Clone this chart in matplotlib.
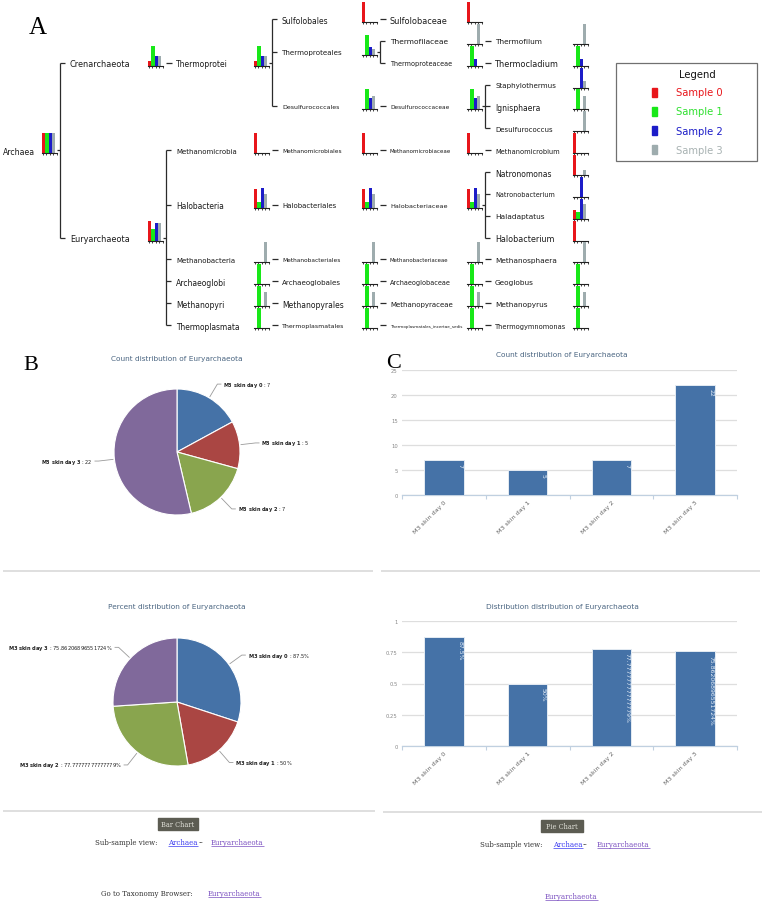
import numpy as np
import matplotlib
matplotlib.use('Agg')
import matplotlib.pyplot as plt
from matplotlib.patches import Rectangle

W, H, DPI = 764, 904, 100

# ---------------- data ----------------
sample_names = ['Sample 0', 'Sample 1', 'Sample 2', 'Sample 3']
sample_colors = ['#e8161b', '#18e818', '#1c1cc8', '#9eacae']
legend_text_colors = ['#e8161b', '#2fe02f', '#1c1cc8', '#a8b2b2']

taxa = ['Archaea', 'Crenarchaeota', 'Thermoprotei', 'Sulfolobales', 'Sulfolobaceae',
        'Thermoproteales', 'Thermofilaceae', 'Thermofilum', 'Thermoproteaceae', 'Thermocladium',
        'Desulfurococcales', 'Desulfurococcaceae', 'Staphylothermus', 'Ignisphaera', 'Desulfurococcus',
        'Euryarchaeota', 'Methanomicrobia', 'Methanomicrobiales', 'Methanomicrobiaceae', 'Methanomicrobium',
        'Halobacteria', 'Halobacteriales', 'Halobacteriaceae', 'Natronomonas', 'Natronobacterium',
        'Haladaptatus', 'Halobacterium',
        'Methanobacteria', 'Methanobacteriales', 'Methanobacteriaceae', 'Methanosphaera',
        'Archaeoglobi', 'Archaeoglobales', 'Archaeoglobaceae', 'Geoglobus',
        'Methanopyri', 'Methanopyrales', 'Methanopyraceae', 'Methanopyrus',
        'Thermoplasmata', 'Thermoplasmatales', 'Thermoplasmatales_incertae_sedis', 'Thermogymnomonas']
parent = [None, 'Archaea', 'Crenarchaeota', 'Thermoprotei', 'Sulfolobales',
          'Thermoprotei', 'Thermoproteales', 'Thermofilaceae', 'Thermoproteales', 'Thermoproteaceae',
          'Thermoprotei', 'Desulfurococcales', 'Desulfurococcaceae', 'Desulfurococcaceae', 'Desulfurococcaceae',
          'Archaea', 'Euryarchaeota', 'Methanomicrobia', 'Methanomicrobiales', 'Methanomicrobiaceae',
          'Euryarchaeota', 'Halobacteria', 'Halobacteriales', 'Halobacteriaceae', 'Halobacteriaceae',
          'Halobacteriaceae', 'Halobacteriaceae',
          'Euryarchaeota', 'Methanobacteria', 'Methanobacteriales', 'Methanobacteriaceae',
          'Euryarchaeota', 'Archaeoglobi', 'Archaeoglobales', 'Archaeoglobaceae',
          'Euryarchaeota', 'Methanopyri', 'Methanopyrales', 'Methanopyraceae',
          'Euryarchaeota', 'Thermoplasmata', 'Thermoplasmatales', 'Thermoplasmatales_incertae_sedis']
# relative abundance of each taxon per sample (mini bar heights)
sample0 = [1, 0.25, 0.25, 1, 1, 0, 0, 0, 0, 0, 0, 0, 0, 0, 0,
           1, 1, 1, 1, 1, 0.95, 0.95, 0.95, 1, 0, 0.42, 1,
           0, 0, 0, 0, 0, 0, 0, 0, 0, 0, 0, 0, 0, 0, 0, 0]
sample1 = [1, 1, 1, 0, 0, 1, 0, 0, 1, 1, 1, 1, 0, 1, 0,
           0.58, 0, 0, 0, 0, 0.28, 0.28, 0.28, 0, 0, 0.33, 0,
           0, 0, 0, 0, 1, 1, 1, 1, 1, 1, 1, 1, 1, 1, 1, 1]
sample2 = [1, 0.47, 0.47, 0, 0, 0.38, 0, 0, 0.35, 0.35, 0.55, 0.55, 1, 0, 0,
           0.88, 0, 0, 0, 0, 1, 1, 1, 0, 1, 1, 0,
           0, 0, 0, 0, 0, 0, 0, 0, 0, 0, 0, 0, 0, 0, 0, 0]
sample3 = [1, 0.5, 0.5, 0, 0, 0.3, 1, 1, 0, 0, 0.65, 0.65, 0.33, 0.68, 1,
           0.87, 0, 0, 0, 0, 0.7, 0.7, 0.7, 0.25, 0, 0.72, 0,
           1, 1, 1, 1, 0, 0, 0, 0, 0.7, 0.7, 0.7, 0.7, 0, 0, 0, 0]

day_labels = ['M3 skin day 0', 'M3 skin day 1', 'M3 skin day 2', 'M3 skin day 3']
counts = [7, 5, 7, 22]
count_ticks = [0, 5, 10, 15, 20, 25]
percents = [87.5, 50.0, 77.77777777777779, 75.86206896551724]
percent_labels = ['87.5%', '50%', '77.77777777777779%', '75.86206896551724%']
pct_ticks = [0, 0.25, 0.5, 0.75, 1]
pct_tick_labels = ['0', '0.25', '0.5', '0.75', '1']
hc_colors = ['#4572A7', '#AA4643', '#89A54E', '#80699B']

# ---------------- layout / style ----------------
label_x = [3, 70, 176, 282, 390, 495]
chart_x = [42, 148, 254, 362, 467, 573]
ROW0, ROWH = 20.0, 21.86
label_widths = {
    'Archaea': 32, 'Crenarchaeota': 60, 'Euryarchaeota': 60, 'Thermoprotei': 52,
    'Methanomicrobia': 61, 'Halobacteria': 48, 'Methanobacteria': 60, 'Archaeoglobi': 50,
    'Methanopyri': 48, 'Thermoplasmata': 64, 'Sulfolobales': 46, 'Thermoproteales': 61,
    'Desulfurococcales': 57, 'Methanomicrobiales': 59, 'Halobacteriales': 55,
    'Methanobacteriales': 58, 'Archaeoglobales': 59, 'Methanopyrales': 61,
    'Thermoplasmatales': 62, 'Sulfolobaceae': 57, 'Thermofilaceae': 58,
    'Thermoproteaceae': 62, 'Desulfurococcaceae': 58, 'Methanomicrobiaceae': 61,
    'Halobacteriaceae': 57, 'Methanobacteriaceae': 59, 'Archaeoglobaceae': 61,
    'Methanopyraceae': 63, 'Thermoplasmatales_incertae_sedis': 73, 'Thermofilum': 47,
    'Thermocladium': 63, 'Staphylothermus': 61, 'Ignisphaera': 45, 'Desulfurococcus': 57,
    'Methanomicrobium': 64, 'Natronomonas': 56, 'Natronobacterium': 60, 'Haladaptatus': 50,
    'Halobacterium': 59, 'Methanosphaera': 62, 'Geoglobus': 39, 'Methanopyrus': 53,
    'Thermogymnomonas': 71}

fig = plt.figure(figsize=(W / DPI, H / DPI), dpi=DPI, facecolor='white')
bg = fig.add_axes([0, 0, 1, 1])
bg.set_xlim(0, W)
bg.set_ylim(H, 0)
bg.axis('off')
renderer = fig.canvas.get_renderer()


def px_axes(x0, y0, x1, y1):
    return fig.add_axes([x0 / W, 1 - y1 / H, (x1 - x0) / W, (y1 - y0) / H])


def seg(xs, ys, color='#2b2b2b', lw=0.9):
    bg.plot(xs, ys, color=color, lw=lw, solid_capstyle='butt')


def fit_text(x, y, s, width):
    t = bg.text(x, y, s, fontsize=10, ha='left', va='center_baseline', color='#1a1a1a')
    w = t.get_window_extent(renderer).width
    t.set_fontsize(10 * width / w)


def mini_chart(x, y, vals):
    ax = px_axes(x, y - 17, x + 15, y + 3)
    ax.bar(np.arange(4), vals, width=1.0, align='edge', color=sample_colors, zorder=2)
    ax.set_xlim(0, 4.6)
    ax.set_ylim(0, 1)
    ax.patch.set_alpha(0)
    for s in ['left', 'right', 'top']:
        ax.spines[s].set_visible(False)
    ax.spines['bottom'].set_linewidth(0.8)
    ax.spines['bottom'].set_color('#222222')
    ax.set_yticks([])
    ax.set_xticks(np.linspace(0.3, 4.5, 5))
    ax.tick_params(axis='x', length=1.4, width=0.6, color='#222222', labelbottom=False)


# ---------------- panel A: taxonomy tree ----------------
children = {t: [] for t in taxa}
depth = {}
for t, p in zip(taxa, parent):
    depth[t] = 0 if p is None else depth[p] + 1
    if p is not None:
        children[p].append(t)
values = {t: [a, b, c, d] for t, a, b, c, d in zip(taxa, sample0, sample1, sample2, sample3)}

row_y = {}
leaf_counter = [0]


def assign(t):
    if not children[t]:
        row_y[t] = ROW0 + ROWH * leaf_counter[0]
        leaf_counter[0] += 1
    else:
        for c in children[t]:
            assign(c)
        row_y[t] = (row_y[children[t][0]] + row_y[children[t][-1]]) / 2


assign('Archaea')

for t in taxa:
    d, y = depth[t], row_y[t]
    fit_text(label_x[d], y, t, label_widths[t])
    mini_chart(chart_x[d], y, values[t])
    ch = children[t]
    if not ch:
        continue
    nx = label_x[d + 1]
    if len(ch) == 1:
        seg([nx - 10, nx - 4], [y, y])
    else:
        vx = nx - 10
        seg([chart_x[d] + 15, vx], [y, y])
        seg([vx, vx], [row_y[ch[0]], row_y[ch[-1]]])
        for c in ch:
            seg([vx, vx + 5], [row_y[c], row_y[c]])

# legend
bg.add_patch(Rectangle((616, 64), 141, 98, fill=False, ec='#707070', lw=0.9))
bg.text(697, 75, 'Legend', ha='center', va='center', fontsize=7.2, color='#111')
for i, (n, c, tc) in enumerate(zip(sample_names, sample_colors, legend_text_colors)):
    yy = 93 + 19.3 * i
    bg.add_patch(Rectangle((652, yy - 4.5), 5, 9, color=c))
    bg.text(676, yy, n, color=tc, fontsize=7.2, va='center')

# panel letters
bg.text(38, 28, 'A', family='Liberation Serif', fontsize=18, ha='center', va='center')
bg.text(31, 366, 'B', family='Liberation Serif', fontsize=16, ha='center', va='center')
bg.text(394, 364, 'C', family='Liberation Serif', fontsize=16, ha='center', va='center')

TITLE_C = '#4a6581'


# ---------------- panel B: pies ----------------
def pie_panel(cx, cy, r, vals, vtexts, title, ty, fs):
    bg.text(cx, ty, title, ha='center', va='center', fontsize=5.3, color=TITLE_C)
    ax = px_axes(cx - r - 2, cy - r - 2, cx + r + 2, cy + r + 2)
    wedges, _ = ax.pie(vals, colors=hc_colors, startangle=90, counterclock=False, radius=1,
                       wedgeprops=dict(edgecolor='white', linewidth=0.8))
    lim = (r + 2) / r
    ax.set_xlim(-lim, lim)
    ax.set_ylim(-lim, lim)
    for w, name, vt in zip(wedges, day_labels, vtexts):
        th = np.deg2rad((w.theta1 + w.theta2) / 2)
        dx, dy = np.cos(th), -np.sin(th)
        ex, ey = cx + (r + 1) * dx, cy + (r + 1) * dy
        axx, ayy = cx + (r + 16) * dx, cy + (r + 16) * dy
        sgn = 1 if dx >= 0 else -1
        seg([ex, axx, axx + 4 * sgn], [ey, ayy, ayy], color='#9a9a9a', lw=0.6)
        bold = r'$\mathbf{' + name.replace(' ', r'\ ') + '}$'
        bg.text(axx + 6 * sgn, ayy, bold + ' : ' + vt, ha='left' if sgn > 0 else 'right',
                va='center', fontsize=fs, color='#222')


pie_panel(177, 453, 63, counts, [str(c) for c in counts],
          'Count distribution of Euryarchaeota', 359, 3.6)
pie_panel(177, 703, 64, percents, percent_labels,
          'Percent distribution of Euryarchaeota', 607, 3.7)


# ---------------- panel C: bars ----------------
def bar_panel(y_top, y_bot, vals, ymax, ticks, ticklabels, vlabels, title, ty):
    bg.text(562, ty, title, ha='center', va='center', fontsize=5.3, color=TITLE_C)
    ax = px_axes(402, y_top, 737, y_bot)
    x = np.arange(4)
    ax.bar(x, vals, width=0.47, color=hc_colors[0], edgecolor='#e4ebf3', linewidth=0.7, zorder=3)
    ax.set_xlim(-0.5, 3.5)
    ax.set_ylim(0, ymax)
    ax.set_yticks(ticks)
    ax.set_yticklabels(ticklabels)
    ax.yaxis.grid(True, color='#dedede', lw=0.9)
    ax.set_axisbelow(True)
    for s in ['left', 'right', 'top']:
        ax.spines[s].set_visible(False)
    ax.spines['bottom'].set_color('#c0d0e0')
    ax.spines['bottom'].set_linewidth(0.9)
    ax.set_xticks(x)
    ax.set_xticklabels(day_labels, rotation=45, ha='right', rotation_mode='anchor',
                       fontsize=4.6, color='#666')
    ax.set_xticks(np.arange(-0.5, 4, 1), minor=True)
    ax.tick_params(axis='x', which='major', length=0, pad=3)
    ax.tick_params(axis='x', which='minor', length=3, color='#c0d0e0', width=0.8)
    ax.tick_params(axis='y', length=0, pad=3, labelsize=3.8, labelcolor='#888')
    for xi, v, s in zip(x, vals, vlabels):
        ax.annotate(s, xy=(xi + 0.235, v), xytext=(-1.0, -2.5), textcoords='offset points',
                    rotation=270, rotation_mode='anchor', ha='left', va='top',
                    fontsize=4.4, color='#e6eef8', zorder=4)


bar_panel(371, 496, counts, 25, count_ticks, [str(t) for t in count_ticks],
          [str(c) for c in counts], 'Count distribution of Euryarchaeota', 355)
bar_panel(622, 747, [p / 100 for p in percents], 1, pct_ticks, pct_tick_labels,
          percent_labels, 'Distribution distribution of Euryarchaeota', 607)

# ---------------- dividers and page footer ----------------
DIV = '#d6d6d6'
seg([3, 373], [572, 572], color=DIV, lw=1.1)
seg([381, 760], [572, 572], color=DIV, lw=1.1)
seg([3, 375], [812, 812], color=DIV, lw=1.1)
seg([383, 762], [813, 813], color=DIV, lw=1.1)

SERIF = 'DejaVu Serif'
BLUE = '#3a3af0'
PURPLE = '#7a4fc0'


def link_text(x, y, s, color='#333333', underline=False):
    t = bg.text(x, y, s, fontsize=5, family=SERIF, color=color, va='center')
    if underline:
        w = t.get_window_extent(renderer).width
        seg([x, x + w], [y + 4, y + 4], color=color, lw=0.5)


for (bx, by, bw, txt) in [(158, 819, 40, 'Bar Chart'), (541, 821, 42, 'Pie Chart')]:
    bg.add_patch(Rectangle((bx, by), bw, 12, color='#5c5c52'))
    bg.text(bx + bw / 2, by + 6, txt, ha='center', va='center', fontsize=4.8,
            family=SERIF, color='#e0e0d8')

link_text(95, 843, 'Sub-sample view:')
link_text(168, 843, 'Archaea', BLUE, True)
link_text(199, 843, '--')
link_text(211, 843, 'Euryarchaeota', PURPLE, True)
link_text(480, 845, 'Sub-sample view:')
link_text(553, 845, 'Archaea', BLUE, True)
link_text(583, 845, '--')
link_text(597, 845, 'Euryarchaeota', PURPLE, True)
link_text(101, 894, 'Go to Taxonomy Browser:')
link_text(208, 894, 'Euryarchaeota', PURPLE, True)
link_text(545, 897, 'Euryarchaeota', PURPLE, True)

fig.savefig('out.png', dpi=DPI, facecolor='white')
